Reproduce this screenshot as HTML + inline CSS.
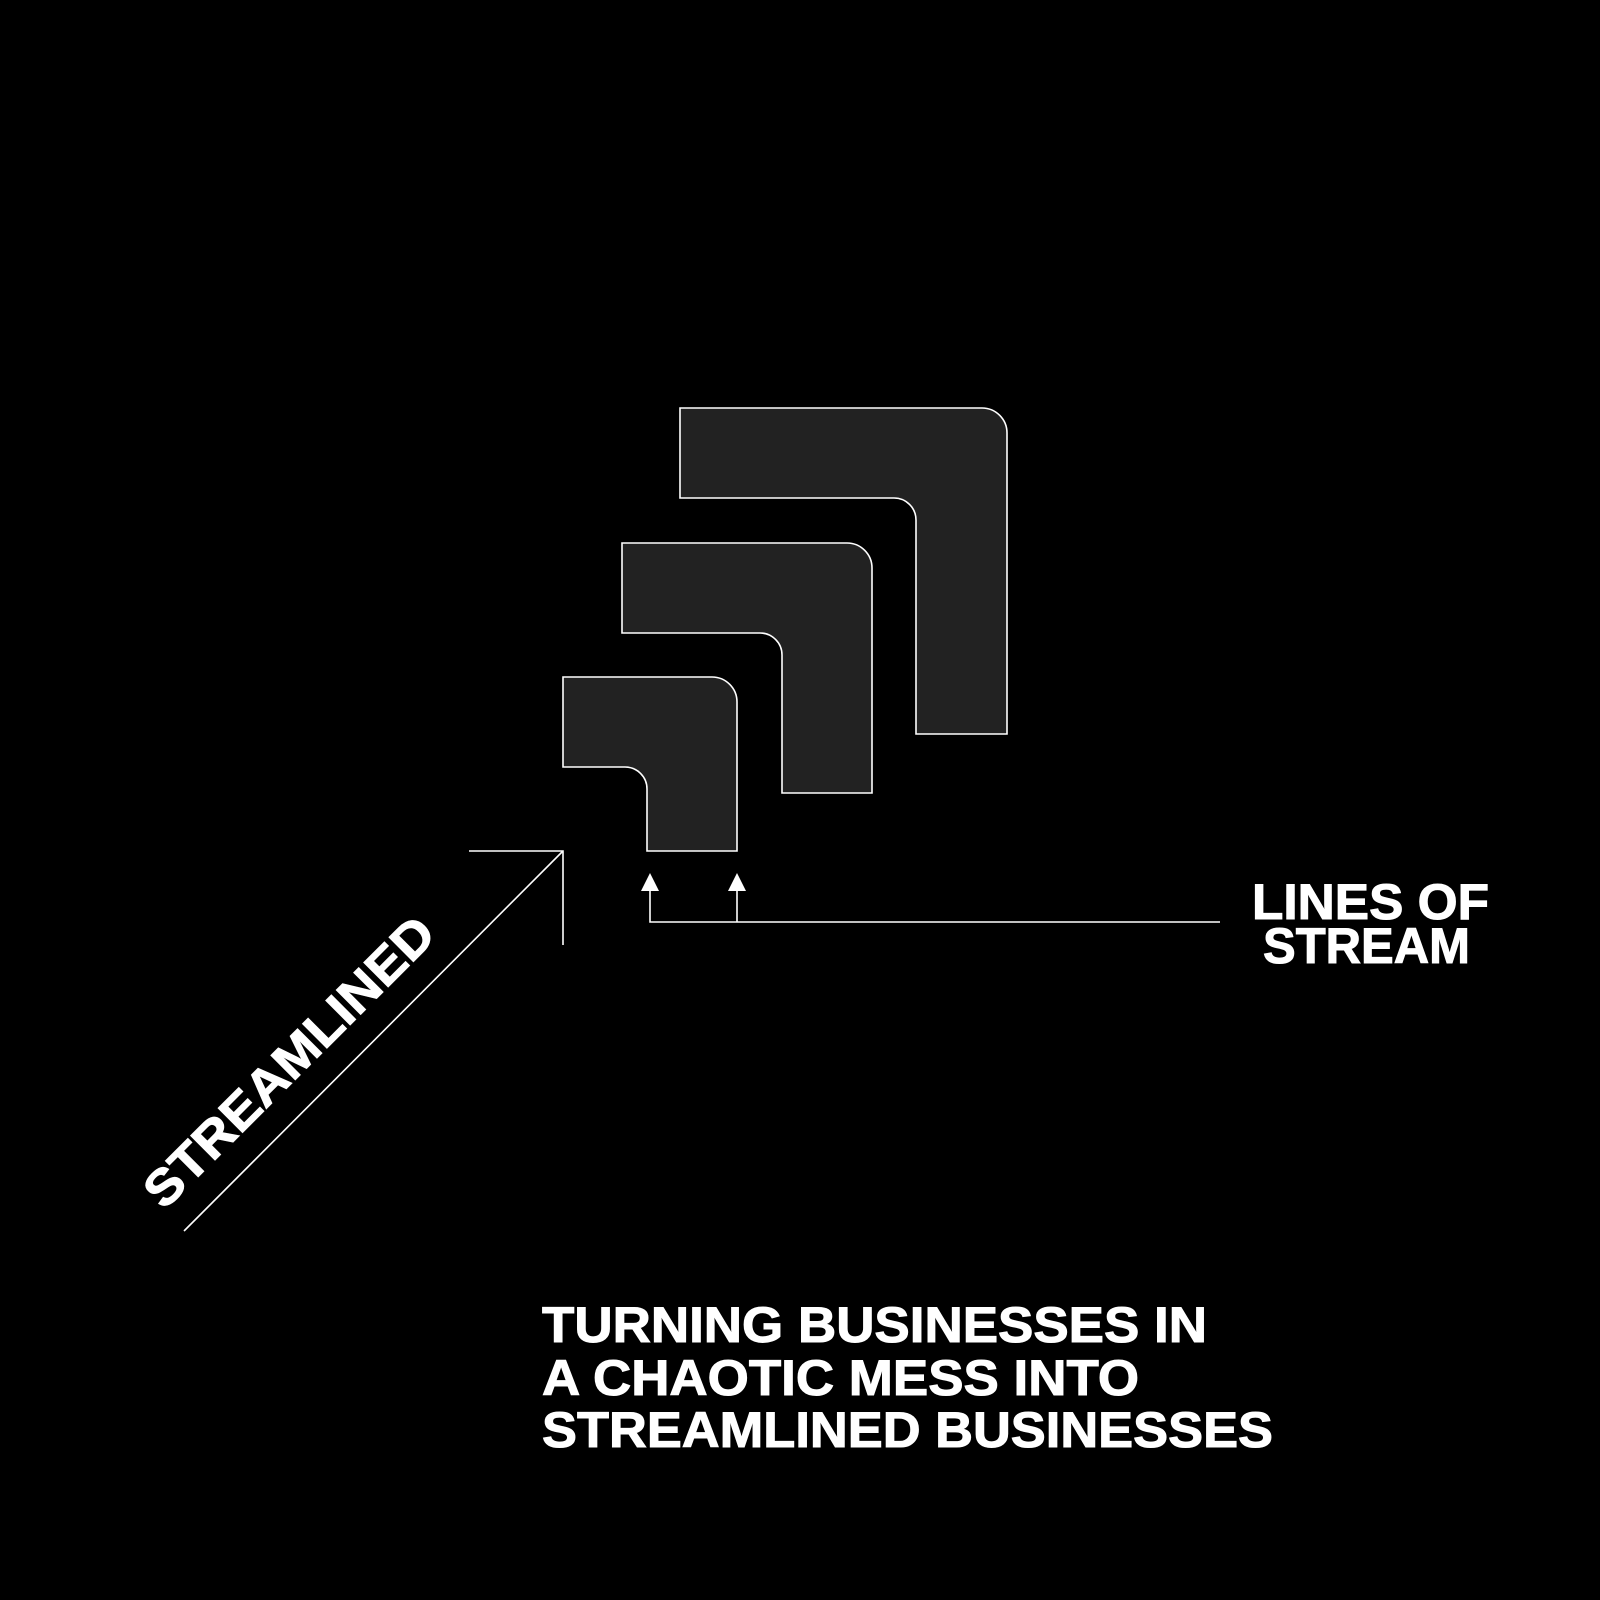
<!DOCTYPE html>
<html><head><meta charset="utf-8"><style>
html,body{margin:0;padding:0;background:#000;}
svg{display:block;}
text{font-family:"Liberation Sans",sans-serif;font-weight:bold;fill:#fff;stroke:#fff;stroke-width:1;}
</style></head><body>
<svg width="1600" height="1600" viewBox="0 0 1600 1600">
<rect width="1600" height="1600" fill="#000"/>
<g fill="#222" stroke="#fff" stroke-width="1.6">
<path d="M680 408 H982 A25 25 0 0 1 1007 433 V734 H916 V520 A22 22 0 0 0 894 498 H680 Z"/>
<path d="M622 543 H847 A25 25 0 0 1 872 568 V793 H782 V655 A22 22 0 0 0 760 633 H622 Z"/>
<path d="M563 677 H712 A25 25 0 0 1 737 702 V851 H647 V789 A22 22 0 0 0 625 767 H563 Z"/>
</g>
<g stroke="#fff" stroke-width="1.6" fill="none">
<path d="M469 851 H563 V945"/>
<path d="M563 851 L184 1231"/>
<path d="M650 888 V922 H1220"/>
<path d="M737 888 V922"/>
</g>
<g fill="#fff">
<path d="M650 873 L641 891 L659 891 Z"/>
<path d="M737 873 L728 891 L746 891 Z"/>
</g>
<text x="1252" y="919" font-size="50" textLength="237" lengthAdjust="spacingAndGlyphs">LINES OF</text>
<text x="1263" y="963" font-size="50" textLength="207" lengthAdjust="spacingAndGlyphs">STREAM</text>
<text transform="translate(164 1211) rotate(-45)" x="0" y="0" font-size="50" textLength="388" lengthAdjust="spacingAndGlyphs">STREAMLINED</text>
<text x="542" y="1342" font-size="50" textLength="665" lengthAdjust="spacingAndGlyphs">TURNING BUSINESSES IN</text>
<text x="542" y="1395" font-size="50" textLength="597" lengthAdjust="spacingAndGlyphs">A CHAOTIC MESS INTO</text>
<text x="542" y="1447" font-size="50" textLength="731" lengthAdjust="spacingAndGlyphs">STREAMLINED BUSINESSES</text>
</svg>
</body></html>
